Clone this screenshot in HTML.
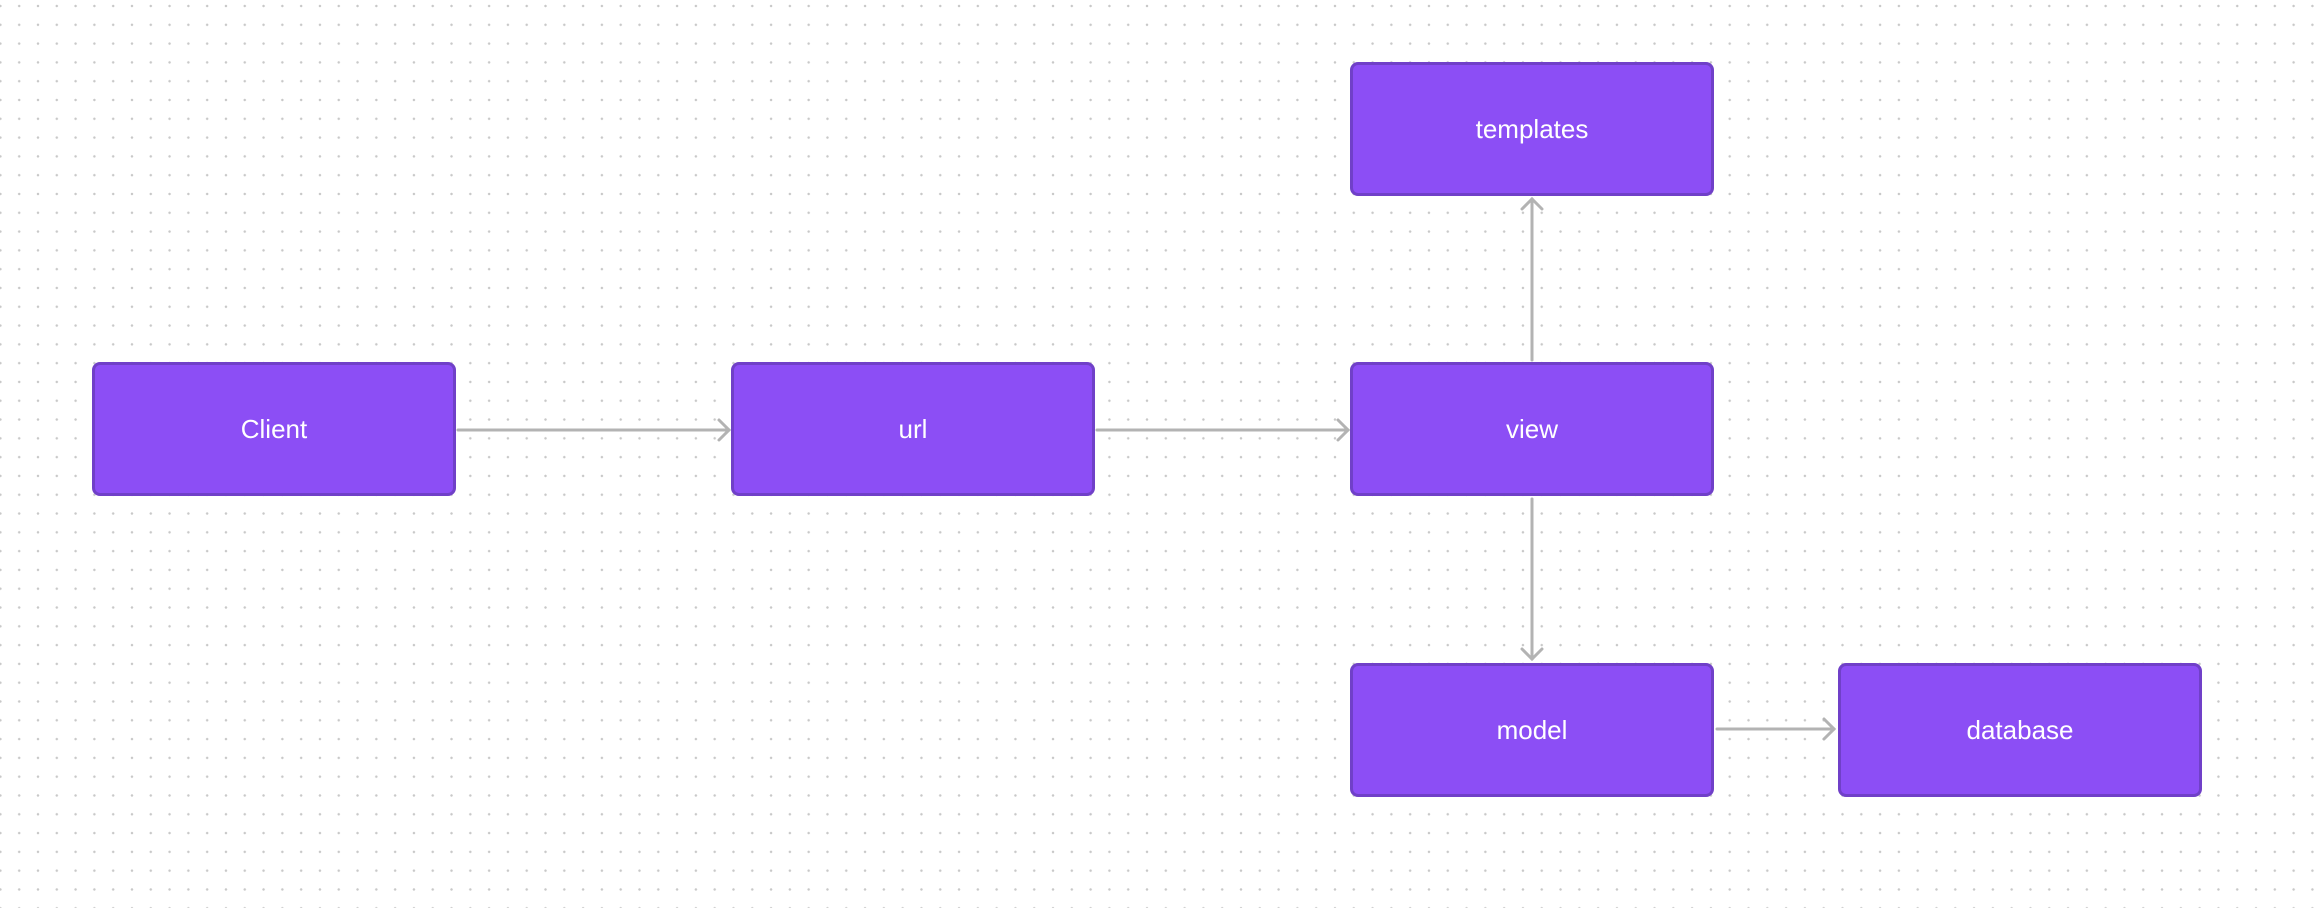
<!DOCTYPE html>
<html><head><meta charset="utf-8"><style>
html,body{margin:0;padding:0}
body{width:2314px;height:908px;position:relative;overflow:hidden;background:#fff;
background-image:radial-gradient(circle,#c8c8c8 1.1px,transparent 1.4px);
background-size:18.8px 18.8px;background-position:-9px -3.4px;}
.b{position:absolute;width:358px;height:128px;background:#8c4ef5;border:3px solid #7040c8;border-radius:8px;
color:#fff;font:26px "Liberation Sans",sans-serif;display:flex;align-items:center;justify-content:center;}
svg{position:absolute;left:0;top:0}
</style></head><body>
<svg width="2314" height="908">
<g stroke="#b3b3b3" stroke-width="3" fill="none" stroke-linecap="round">
<line x1="458" y1="430" x2="729" y2="430"/><polyline points="719,420 729,430 719,440"/>
<line x1="1097" y1="430" x2="1348" y2="430"/><polyline points="1338,420 1348,430 1338,440"/>
<line x1="1532" y1="360" x2="1532" y2="199"/><polyline points="1522,209 1532,199 1542,209"/>
<line x1="1532" y1="499" x2="1532" y2="659"/><polyline points="1522,649 1532,659 1542,649"/>
<line x1="1717" y1="729" x2="1834" y2="729"/><polyline points="1824,719 1834,729 1824,739"/>
</g></svg>
<div class="b" style="left:92px;top:362px">Client</div>
<div class="b" style="left:731px;top:362px">url</div>
<div class="b" style="left:1350px;top:362px">view</div>
<div class="b" style="left:1350px;top:62px">templates</div>
<div class="b" style="left:1350px;top:663px">model</div>
<div class="b" style="left:1838px;top:663px">database</div>
</body></html>
